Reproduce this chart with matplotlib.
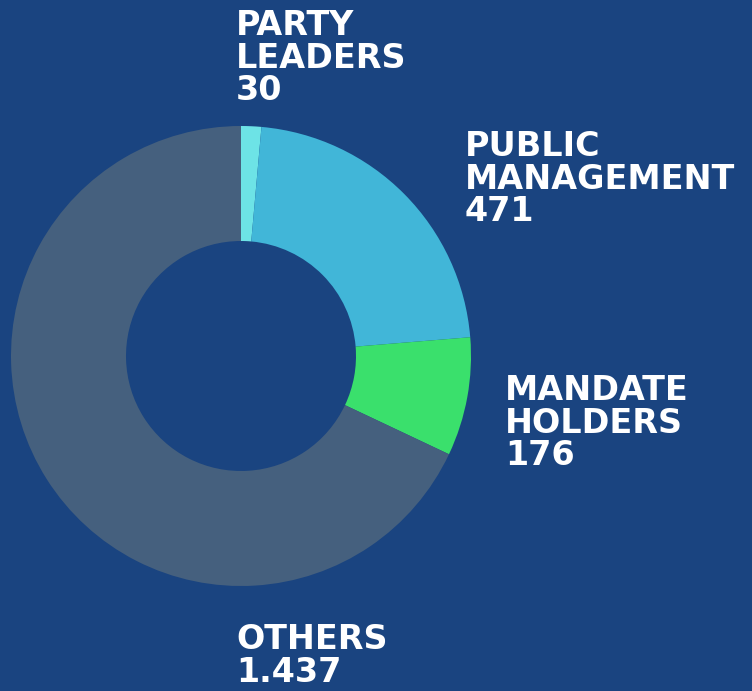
import matplotlib.pyplot as plt

# Donut of profiles by group
groups = ['PARTY\nLEADERS', 'PUBLIC\nMANAGEMENT', 'MANDATE\nHOLDERS', 'OTHERS']
counts = [30, 471, 176, 1437]
colors = ['#6de3e6', '#41b6d8', '#3ae06c', '#45607e']
bg = '#1a4480'

# label anchor (left, top) in pixels of the 752x691 canvas
label_pos = [(236, 9), (465, 130), (505, 374), (236, 623)]

W, H = 752, 691
fig = plt.figure(figsize=(W / 100, H / 100), dpi=100, facecolor=bg)

# axes box around the ring: centre (241, 356), radius 230 px
cx, cy, r = 241, 356, 230
ax = fig.add_axes([(cx - r) / W, (H - cy - r) / H, 2 * r / W, 2 * r / H])
ax.set_facecolor(bg)
ax.pie(counts, colors=colors, startangle=90, counterclock=False, radius=1,
       wedgeprops=dict(width=0.5, linewidth=0))
ax.set_xlim(-1, 1)
ax.set_ylim(-1, 1)
ax.set_aspect('equal')
ax.axis('off')

def fmt(v):
    return f'{v:,}'.replace(',', '.')

for name, v, (x, y) in zip(groups, counts, label_pos):
    fig.text(x / W, 1 - y / H, f'{name}\n{fmt(v)}', ha='left', va='top',
             color='white', fontsize=24, fontweight='bold',
             family='DejaVu Sans', linespacing=0.99)

fig.savefig('out.png', dpi=100, facecolor=bg)
